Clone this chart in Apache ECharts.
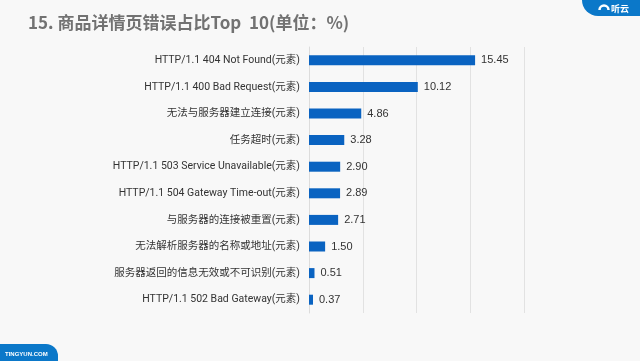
<!DOCTYPE html>
<html>
<head>
<meta charset="utf-8">
<script src="https://cdn.jsdelivr.net/npm/echarts@6/dist/echarts.min.js"></script>
<style>html,body{margin:0;padding:0;background:#f8f8f8;}#c{width:640px;height:361px;}</style>
</head>
<body>
<div id="c"></div>
<script>
var categories = [
  'HTTP/1.1 404 Not Found(元素)',
  'HTTP/1.1 400 Bad Request(元素)',
  '无法与服务器建立连接(元素)',
  '任务超时(元素)',
  'HTTP/1.1 503 Service Unavailable(元素)',
  'HTTP/1.1 504 Gateway Time-out(元素)',
  '与服务器的连接被重置(元素)',
  '无法解析服务器的名称或地址(元素)',
  '服务器返回的信息无效或不可识别(元素)',
  'HTTP/1.1 502 Bad Gateway(元素)'
];
var values = [15.45, 10.12, 4.86, 3.28, 2.90, 2.89, 2.71, 1.50, 0.51, 0.37];
var titleText = '15. 商品详情页错误占比Top  10(单位：%)';

var chart = echarts.init(document.getElementById('c'), null, {renderer: 'canvas'});
chart.setOption({
  backgroundColor: '#f8f8f8',
  animation: false,
  title: {
    text: titleText,
    left: 23, top: 9,
    textStyle: {fontFamily: 'Noto Sans CJK SC', fontSize: 17, fontWeight: 'bold', color: '#727272'}
  },
  grid: {left: 309, right: 116, top: 47, bottom: 48, containLabel: false},
  xAxis: {
    type: 'value', min: 0, max: 20, interval: 5,
    axisLabel: {show: false}, axisTick: {show: false}, axisLine: {show: false},
    splitLine: {show: true, lineStyle: {color: '#e2e2e2', width: 1}}
  },
  yAxis: {
    type: 'category', data: categories, inverse: true,
    axisLine: {show: true, lineStyle: {color: '#dcdcdc'}},
    axisTick: {show: false},
    axisLabel: {margin: 9, fontSize: 10.5, color: '#333', fontFamily: 'Roboto, Noto Sans CJK SC'}
  },
  series: [{
    type: 'bar', data: values, barWidth: 10,
    itemStyle: {color: '#0a63c1'},
    label: {show: true, position: 'right', distance: 6, fontSize: 11, color: '#333',
      fontFamily: 'Liberation Sans', formatter: function(p){ return p.value.toFixed(2); }}
  }],
  graphic: [
    {type: 'rect', shape: {x: 582, y: -20, width: 80, height: 36, r: [0, 0, 0, 16]}, style: {fill: '#0b78c9'}},
    {type: 'arc', shape: {cx: 604, cy: 10, r: 4.5, startAngle: Math.PI, endAngle: 2 * Math.PI}, style: {stroke: '#fff', lineWidth: 2.5, fill: null}},
    {type: 'text', style: {x: 611, y: 4, text: '听云', fill: '#fff', font: 'bold 9px Noto Sans CJK SC'}},
    {type: 'rect', shape: {x: -20, y: 344, width: 78, height: 30, r: [12, 12, 0, 0]}, style: {fill: '#0b78c9'}},
    {type: 'text', style: {x: 5, y: 351, text: 'TINGYUN.COM', fill: '#fff', font: 'bold 6px Liberation Sans'}}
  ]
});
</script>
</body>
</html>
